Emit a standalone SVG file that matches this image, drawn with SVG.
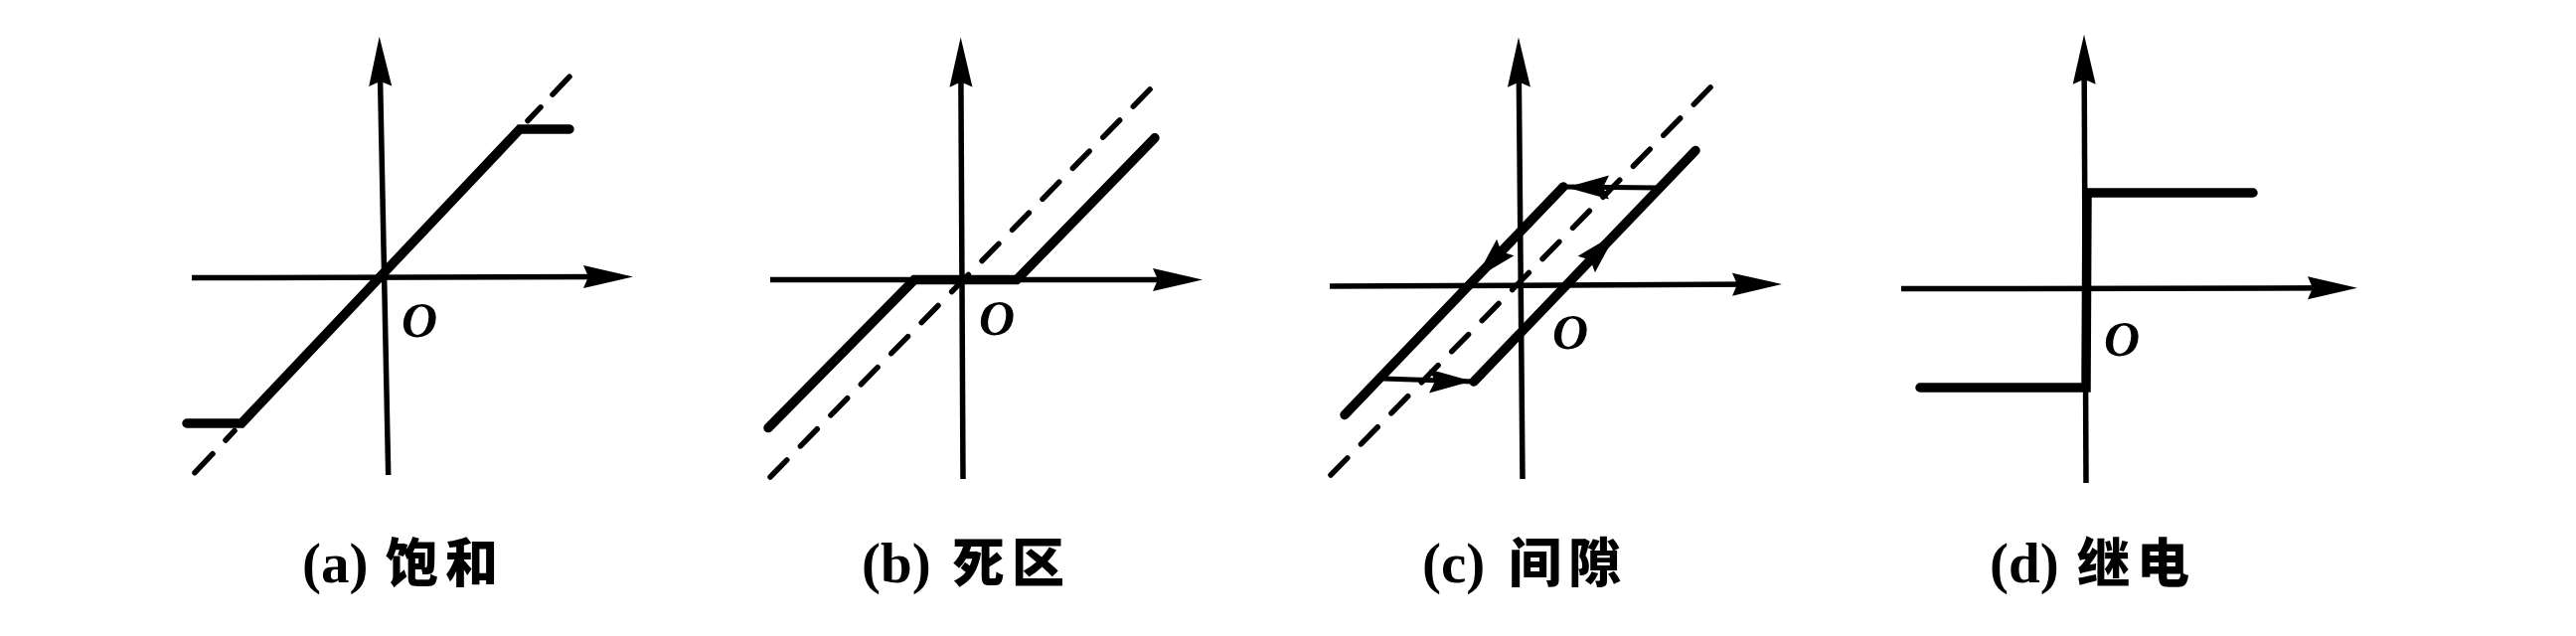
<svg xmlns="http://www.w3.org/2000/svg" width="2592" height="640" viewBox="0 0 2592 640">
<style>
.ax{stroke:#000;stroke-width:5.5;fill:none;marker-end:url(#axh)}
.th{stroke:#000;stroke-width:9.5;fill:none;stroke-linecap:round;stroke-linejoin:miter}
.tn{stroke:#000;stroke-width:5;fill:none;stroke-linecap:round}
.ds{stroke:#000;stroke-width:5.5;fill:none;stroke-linecap:round;stroke-dasharray:24 19.5}
.dsg{stroke:#000;stroke-width:5.5;fill:none;stroke-linecap:round}
.o{font-family:"Liberation Serif",serif;font-style:italic;font-weight:bold;font-size:50px;fill:#000;text-anchor:middle}
.lb{font-family:"Liberation Serif","Noto Sans CJK SC",serif;font-weight:bold;font-size:57px;fill:#000}
.cj{font-family:"Noto Sans CJK SC",sans-serif;font-weight:900;font-size:53px;letter-spacing:7px}
</style>
<defs>
<marker id="axh" markerUnits="userSpaceOnUse" viewBox="-52 -13 54 26" markerWidth="54" markerHeight="26" refX="-25" refY="0" orient="auto"><path d="M0,0 L-50,-11.5 L-45,0 L-50,11.5 Z" fill="#000"/></marker>
<path id="hd" d="M0,0 L-43,-12 L-37,0 L-43,12 Z" fill="#000"/>
</defs>
<rect width="2592" height="640" fill="#fff"/>

<g id="panel-a">
<line class="ax" x1="193" y1="279.6" x2="612" y2="278.5"/>
<line class="ax" x1="390.7" y1="478" x2="382.2" y2="61.7"/>
<polyline class="th" points="188,426 243,426 523,130 573,130"/>
<line class="dsg" x1="531" y1="121.5" x2="544" y2="107.8"/>
<line class="dsg" x1="556" y1="95.1" x2="573" y2="77.2"/>
<line class="dsg" x1="236" y1="433.4" x2="227" y2="443"/>
<line class="dsg" x1="214" y1="456.7" x2="196" y2="475.7"/>
<text class="o" x="422" y="339">O</text>
<text class="lb" x="304" y="586">(a)<tspan class="cj" x="388">饱和</tspan></text>
</g>

<g id="panel-b">
<line class="ax" x1="775" y1="281.6" x2="1185" y2="281.6"/>
<line class="ax" x1="969" y1="482" x2="966.8" y2="62.6"/>
<line class="ds" x1="775" y1="480" x2="1158" y2="89"/>
<polyline class="th" points="773,430.6 920,281.6 1023,281.6 1162,138.8"/>
<text class="o" x="1003" y="337">O</text>
<text class="lb" x="867" y="586">(b)<tspan class="cj" x="958">死区</tspan></text>
</g>

<g id="panel-c">
<line class="ax" x1="1338" y1="288" x2="1768" y2="286.1"/>
<line class="ax" x1="1532" y1="482" x2="1528.2" y2="62.6"/>
<line class="ds" x1="1339" y1="478" x2="1722" y2="87"/>
<line class="th" x1="1353" y1="417.5" x2="1573" y2="188"/>
<line class="tn" x1="1573" y1="188" x2="1670" y2="189"/>
<line class="th" x1="1706" y1="151.5" x2="1483" y2="384"/>
<line class="tn" x1="1391" y1="381" x2="1483" y2="384"/>
<use href="#hd" transform="translate(1576,188.5) rotate(180)"/>
<use href="#hd" transform="translate(1481,383.5)"/>
<use href="#hd" transform="translate(1485,280) rotate(133.8)"/>
<use href="#hd" transform="translate(1626,235) rotate(-46.2)"/>
<text class="o" x="1580" y="351">O</text>
<text class="lb" x="1431" y="586">(c)<tspan class="cj" x="1518">间隙</tspan></text>
</g>

<g id="panel-d">
<line class="ax" x1="1913" y1="290.6" x2="2347" y2="289.8"/>
<line class="ax" x1="2099" y1="486" x2="2097.1" y2="59.7"/>
<polyline class="th" points="1932,390 2099,390 2100,194 2267,194"/>
<text class="o" x="2135" y="358">O</text>
<text class="lb" x="2002" y="586">(d)<tspan class="cj" x="2090">继电</tspan></text>
</g>
</svg>
